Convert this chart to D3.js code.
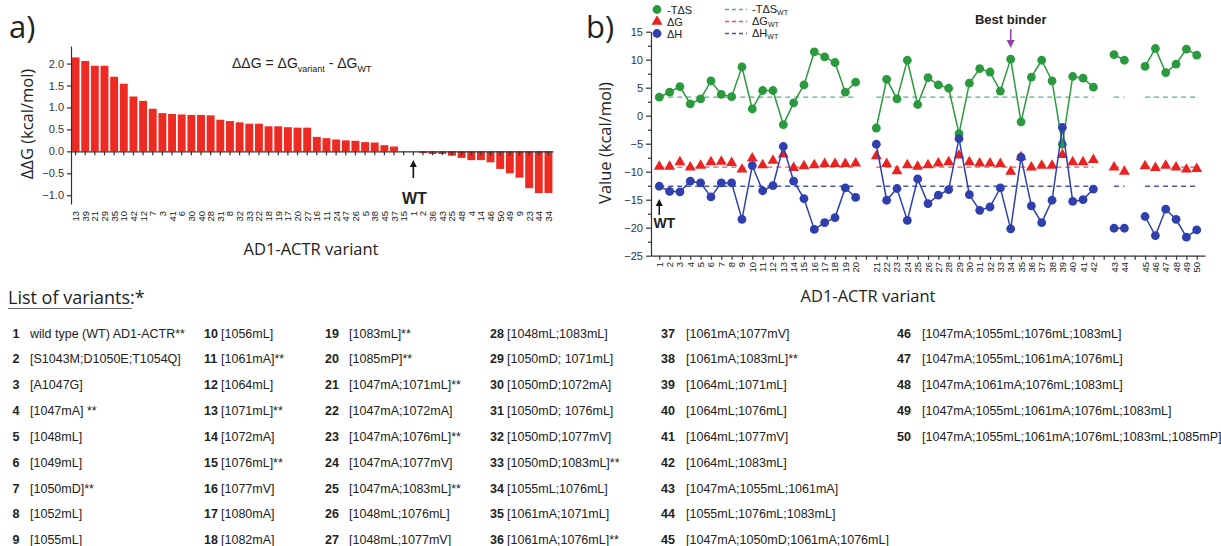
<!DOCTYPE html>
<html>
<head>
<meta charset="utf-8">
<script src="https://cdn.jsdelivr.net/npm/d3@7"></script>
<style>
body { margin: 0; background: #fff; }
svg text { font-family: "Liberation Sans", Arial, sans-serif; fill: #222; }
.ttl { font-family: "Open Sans", "DejaVu Sans", sans-serif; }
.axis path, .axis line { stroke: #333; stroke-width: 1.2; }
.axis text { font-size: 11px; fill: #333; }
</style>
</head>
<body>
<svg id="fig" width="1221" height="546"></svg>
<script>
// panel a: ddG per variant, sorted as in the figure
var ddgVariants = ["13","39","21","29","35","10","42","12","7","3","41","6","30","40","28","31","8","32","33","22",
    "18","19","17","20","27","16","11","24","47","26","5","38","45","37","15","1","2","36","43","25",
    "48","4","14","46","50","49","9","23","44","34"];
var ddgValues = [2.14, 2.06, 1.95, 1.95, 1.70, 1.54, 1.25, 1.15, 0.97, 0.87, 0.85, 0.84, 0.83, 0.83, 0.82, 0.72, 0.69, 0.66, 0.63, 0.63,
    0.57, 0.57, 0.55, 0.54, 0.54, 0.33, 0.30, 0.27, 0.25, 0.24, 0.21, 0.20, 0.14, 0.11, 0.0, 0.0, -0.04, -0.06, -0.06, -0.10,
    -0.15, -0.20, -0.20, -0.25, -0.40, -0.50, -0.60, -0.84, -0.95, -0.95];
var ddgTicks = [-1.0, -0.5, 0.0, 0.5, 1.0, 1.5, 2.0];

// panel b: x slots (g* = empty gap slots between groups)
var slots = ["1","2","3","4","5","6","7","8","9","10","11","12","13","14","15","16","17","18","19","20","g1",
    "21","22","23","24","25","26","27","28","29","30","31","32","33","34","35","36","37","38","39","40","41","42","g2",
    "43","44","g3","45","46","47","48","49","50"];
var segments = [["1","20"], ["21","42"], ["43","44"], ["45","50"]];
var minusTdS = [3.3, 4.2, 5.2, 2.1, 3.0, 6.2, 3.8, 3.4, 8.7, 1.2, 4.5, 4.5, -1.6, 2.3, 5.5, 11.4, 10.5, 9.5, 4.2, 6.0,
    -2.2, 6.5, 3.0, 9.9, 2.0, 6.8, 5.5, 4.9, -3.2, 5.8, 8.4, 7.8, 4.4, 10.1, -1.1, 6.9, 9.9, 6.2, -5.1, 7.0, 6.7, 5.1,
    10.9, 9.9, 8.8, 12.0, 7.7, 9.2, 11.9, 10.8];
var dG = [-9.1, -9.1, -8.3, -9.2, -8.9, -8.3, -8.2, -8.4, -9.6, -7.6, -8.8, -8.0, -6.9, -9.3, -9.0, -8.8, -8.6, -8.6, -8.6, -8.5,
    -7.2, -8.6, -9.9, -8.8, -9.1, -8.8, -8.5, -8.3, -7.1, -8.3, -8.5, -8.5, -8.6, -10.0, -7.4, -9.2, -8.9, -8.9, -7.0, -8.3, -8.3, -7.9,
    -9.2, -10.0, -9.0, -9.3, -8.9, -9.2, -9.6, -9.5];
var dH = [-12.6, -13.5, -13.6, -11.7, -12.0, -14.5, -12.0, -12.0, -18.5, -8.9, -13.4, -12.5, -5.5, -11.7, -14.8, -20.3, -19.1, -18.2, -12.9, -14.6,
    -5.1, -15.1, -13.0, -18.7, -11.3, -15.7, -14.2, -13.2, -4.1, -14.1, -16.9, -16.3, -12.9, -20.2, -7.4, -16.1, -19.1, -15.1, -2.1, -15.3, -15.0, -13.1,
    -20.1, -20.1, -18.0, -21.4, -16.7, -18.5, -21.7, -20.4];
var wtTdS = 3.3, wtG = -9.2, wtH = -12.6;
var valueTicks = [-25, -20, -15, -10, -5, 0, 5, 10, 15];
var bestBinder = "34";

// list of variants
var variantNames = ["wild type (WT) AD1-ACTR**", "[S1043M;D1050E;T1054Q]", "[A1047G]", "[1047mA] **", "[1048mL]", "[1049mL]",
    "[1050mD]**", "[1052mL]", "[1055mL]", "[1056mL]", "[1061mA]**", "[1064mL]", "[1071mL]**", "[1072mA]", "[1076mL]**",
    "[1077mV]", "[1080mA]", "[1082mA]", "[1083mL]**", "[1085mP]**", "[1047mA;1071mL]**", "[1047mA;1072mA]",
    "[1047mA;1076mL]**", "[1047mA;1077mV]", "[1047mA;1083mL]**", "[1048mL;1076mL]", "[1048mL;1077mV]", "[1048mL;1083mL]",
    "[1050mD; 1071mL]", "[1050mD;1072mA]", "[1050mD; 1076mL]", "[1050mD;1077mV]", "[1050mD;1083mL]**", "[1055mL;1076mL]",
    "[1061mA;1071mL]", "[1061mA;1076mL]**", "[1061mA;1077mV]", "[1061mA;1083mL]**", "[1064mL;1071mL]", "[1064mL;1076mL]",
    "[1064mL;1077mV]", "[1064mL;1083mL]", "[1047mA;1055mL;1061mA]", "[1055mL;1076mL;1083mL]", "[1047mA;1050mD;1061mA;1076mL]",
    "[1047mA;1055mL;1076mL;1083mL]", "[1047mA;1055mL;1061mA;1076mL]", "[1047mA;1061mA;1076mL;1083mL]",
    "[1047mA;1055mL;1061mA;1076mL;1083mL]", "[1047mA;1055mL;1061mA;1076mL;1083mL;1085mP]"];

var svg = d3.select("#fig");
svg.append("rect").attr("width", 1221).attr("height", 546).attr("fill", "#fff");

function arrowUp(g, x, yTip, yBase, color, w) {
    g.append("line").attr("x1", x).attr("x2", x).attr("y1", yTip + 5).attr("y2", yBase)
        .attr("stroke", color).attr("stroke-width", w);
    g.append("path").attr("d", "M" + x + "," + yTip + "l-3.5,7h7z").attr("fill", color);
}

// ---------------- panel a ----------------
var ga = svg.append("g");
var xA = d3.scaleBand().domain(ddgVariants).range([71, 553]).paddingInner(0.18).paddingOuter(0.06);
var yA = d3.scaleLinear().domain([-1.2, 2.4]).range([204, 46]);

ga.append("text").attr("class", "ttl").attr("x", 9).attr("y", 38).attr("font-size", 31).text("a)");

ga.selectAll("rect.bar").data(ddgValues).enter().append("rect")
    .attr("class", "bar")
    .attr("x", function(d, i) { return xA(ddgVariants[i]); })
    .attr("y", function(d) { return yA(Math.max(0, d)); })
    .attr("width", xA.bandwidth())
    .attr("height", function(d) { return Math.abs(yA(d) - yA(0)); })
    .attr("fill", "#ee2b22");

ga.append("g").attr("class", "axis")
    .attr("transform", "translate(71,0)")
    .call(d3.axisLeft(yA).tickValues(ddgTicks).tickFormat(d3.format(".1f")).tickSize(4).tickSizeOuter(0));

ga.append("g").attr("class", "axis")
    .attr("transform", "translate(0," + yA(0) + ")")
    .call(d3.axisBottom(xA).tickSize(4).tickSizeOuter(0).tickFormat(""));

ga.selectAll("text.xlab").data(ddgVariants).enter().append("text")
    .attr("class", "xlab")
    .attr("transform", function(d) { return "translate(" + (xA(d) + xA.bandwidth() / 2 + 3.5) + ",211) rotate(-90)"; })
    .attr("text-anchor", "end").attr("font-size", 9.5).attr("fill", "#333")
    .text(function(d) { return d; });

ga.append("text").attr("class", "ttl").attr("transform", "translate(33,124) rotate(-90)")
    .attr("text-anchor", "middle").attr("font-size", 16.5).text("ΔΔG (kcal/mol)");
ga.append("text").attr("class", "ttl").attr("x", 311).attr("y", 255)
    .attr("text-anchor", "middle").attr("font-size", 16.5).text("AD1-ACTR variant");

var fA = ga.append("text").attr("x", 232).attr("y", 68).attr("font-size", 14);
fA.append("tspan").text("ΔΔG = ΔG");
fA.append("tspan").attr("font-size", 9).attr("dy", 4).text("variant");
fA.append("tspan").attr("dy", -4).text(" - ΔG");
fA.append("tspan").attr("font-size", 9).attr("dy", 4).text("WT");

var wtAx = xA("1") + xA.bandwidth() / 2;
arrowUp(ga, wtAx, 160, 178, "#111", 1.6);
ga.append("text").attr("x", wtAx + 1).attr("y", 204).attr("text-anchor", "middle")
    .attr("font-size", 16).attr("font-weight", "bold").attr("fill", "#111").text("WT");

// ---------------- panel b ----------------
var gb = svg.append("g");
var xB = d3.scalePoint().domain(slots).range([651, 1205]).padding(0.8);
var yB = d3.scaleLinear().domain([-25, 15]).range([255.7, 31.7]);

gb.append("text").attr("class", "ttl").attr("x", 586).attr("y", 38).attr("font-size", 31).text("b)");

gb.append("g").attr("class", "axis")
    .attr("transform", "translate(651,0)")
    .call(d3.axisLeft(yB).tickValues(valueTicks).tickSize(5).tickSizeOuter(0));
gb.append("g").attr("class", "axis")
    .attr("transform", "translate(651,0)")
    .call(d3.axisLeft(yB).tickValues(valueTicks.slice(1).map(function(v) { return v - 2.5; })).tickSize(3).tickFormat(""))
    .select(".domain").remove();

gb.append("g").attr("class", "axis")
    .attr("transform", "translate(0," + yB(-25) + ")")
    .call(d3.axisBottom(xB).tickSize(4).tickSizeOuter(0).tickFormat(""));

var variantIds = slots.filter(function(s) { return s[0] !== "g"; });

gb.selectAll("text.xlab").data(variantIds).enter().append("text")
    .attr("class", "xlab")
    .attr("transform", function(d) { return "translate(" + (xB(d) + 3.5) + ",262) rotate(-90)"; })
    .attr("text-anchor", "end").attr("font-size", 9.5).attr("fill", "#333")
    .text(function(d) { return d; });

gb.append("text").attr("class", "ttl").attr("transform", "translate(611,143) rotate(-90)")
    .attr("text-anchor", "middle").attr("font-size", 16.5).text("Value (kcal/mol)");
gb.append("text").attr("class", "ttl").attr("x", 868).attr("y", 302)
    .attr("text-anchor", "middle").attr("font-size", 16.5).text("AD1-ACTR variant");

var series = [
    { vals: minusTdS, wt: wtTdS, color: "#2b9a3f", dash: "#5aae82", shape: "circle" },
    { vals: dG, wt: wtG, color: "#ea2320", dash: "#e2575a", shape: "triangle" },
    { vals: dH, wt: wtH, color: "#2f3fae", dash: "#4a57a8", shape: "circle" }
];

// WT reference dashes per group
series.forEach(function(s) {
    segments.forEach(function(seg) {
        gb.append("line")
            .attr("x1", xB(seg[0])).attr("x2", xB(seg[1]))
            .attr("y1", yB(s.wt)).attr("y2", yB(s.wt))
            .attr("stroke", s.dash).attr("stroke-width", 1.3).attr("stroke-dasharray", "5,4");
    });
});

var line = d3.line()
    .x(function(d) { return xB(d.id); })
    .y(function(d) { return yB(d.v); });

series.forEach(function(s) {
    var pts = variantIds.map(function(id, i) { return { id: id, v: s.vals[i] }; });
    segments.forEach(function(seg) {
        var a = variantIds.indexOf(seg[0]), b = variantIds.indexOf(seg[1]);
        if (s.shape === "circle") {
            gb.append("path").datum(pts.slice(a, b + 1))
                .attr("d", line).attr("fill", "none")
                .attr("stroke", s.color).attr("stroke-width", 1.5);
        }
    });
    if (s.shape === "circle") {
        gb.selectAll(null).data(pts).enter().append("circle")
            .attr("cx", function(d) { return xB(d.id); })
            .attr("cy", function(d) { return yB(d.v); })
            .attr("r", 4.4).attr("fill", s.color);
    } else {
        gb.selectAll(null).data(pts).enter().append("path")
            .attr("d", d3.symbol(d3.symbolTriangle).size(52))
            .attr("transform", function(d) { return "translate(" + xB(d.id) + "," + yB(d.v) + ")"; })
            .attr("fill", s.color);
    }
});

// legend
var legNames = ["-TΔS", "ΔG", "ΔH"];
var legY = [9.5, 21.5, 33.5];
series.forEach(function(s, i) {
    if (s.shape === "circle") {
        gb.append("circle").attr("cx", 657).attr("cy", legY[i]).attr("r", 4.4).attr("fill", s.color);
    } else {
        gb.append("path").attr("d", d3.symbol(d3.symbolTriangle).size(52))
            .attr("transform", "translate(657," + legY[i] + ")").attr("fill", s.color);
    }
    gb.append("text").attr("x", 667).attr("y", legY[i] + 4).attr("font-size", 11).text(legNames[i]);
    gb.append("line").attr("x1", 725).attr("x2", 747).attr("y1", legY[i]).attr("y2", legY[i])
        .attr("stroke", s.dash).attr("stroke-width", 1.3).attr("stroke-dasharray", "4,3");
    var t = gb.append("text").attr("x", 752).attr("y", legY[i] + 3).attr("font-size", 11);
    t.append("tspan").text(legNames[i]);
    t.append("tspan").attr("font-size", 7).attr("dy", 2).text("WT");
});

// annotations
var bx = xB(bestBinder);
gb.append("text").attr("x", bx).attr("y", 24).attr("text-anchor", "middle")
    .attr("font-size", 13).attr("font-weight", "bold").attr("fill", "#9343ad").text("Best binder");
gb.append("line").attr("x1", bx).attr("x2", bx).attr("y1", 29).attr("y2", 42)
    .attr("stroke", "#9343ad").attr("stroke-width", 1.6);
gb.append("path").attr("d", "M" + bx + ",48l-4,-8h8z").attr("fill", "#9343ad");

var wtBx = xB("1");
arrowUp(gb, wtBx, 199, 215, "#111", 1.5);
gb.append("text").attr("x", wtBx + 5).attr("y", 227.5).attr("text-anchor", "middle")
    .attr("font-size", 14).attr("font-weight", "bold").attr("fill", "#111").text("WT");

// ---------------- list of variants ----------------
var gl = svg.append("g");
gl.append("text").attr("class", "ttl").attr("x", 8).attr("y", 304).attr("font-size", 18).attr("fill", "#444")
    .text("List of variants:*");
gl.append("line").attr("x1", 8).attr("x2", 132).attr("y1", 308.5).attr("y2", 308.5)
    .attr("stroke", "#666").attr("stroke-width", 1);

var numX = [12.5, 204, 325, 490, 661, 897];
var nameX = [30, 221, 349, 507, 686, 922];
variantNames.forEach(function(name, i) {
    var col = Math.floor(i / 9), row = i % 9;
    var y = 337.5 + row * 25.85;
    gl.append("text").attr("x", numX[col]).attr("y", y).attr("font-size", 12.5)
        .attr("font-weight", "bold").attr("fill", "#111").text(i + 1);
    gl.append("text").attr("x", nameX[col]).attr("y", y).attr("font-size", 12.5)
        .attr("fill", "#222").text(name);
});
</script>
</body>
</html>
